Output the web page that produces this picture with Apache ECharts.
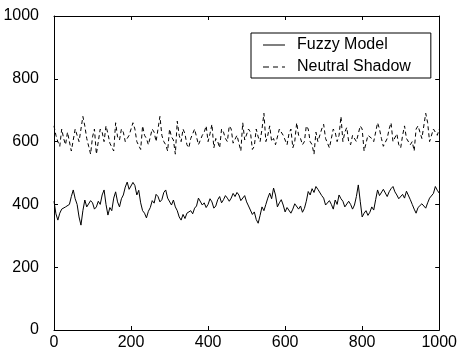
<!DOCTYPE html>
<html>
<head>
<meta charset="utf-8">
<script src="https://cdn.jsdelivr.net/npm/echarts@6/dist/echarts.min.js"></script>
<style>html,body{margin:0;padding:0;background:#fff}#c{width:460px;height:354px}</style>
</head>
<body>
<div id="c"></div>
<script>
const xValues = Array.from({length: 201}, (_, i) => i * 5);
const fuzzyModel = [
  410,370,350,372,385,380,392,388,400,425,446,418,400,360,334,380,414,392,395,412,
  405,385,392,410,400,430,446,400,366,390,380,420,440,408,392,418,430,455,471,448,
  450,470,460,430,445,405,380,372,357,378,390,412,404,432,425,408,415,438,446,420,
  425,398,414,392,380,360,350,368,355,372,366,380,370,388,395,420,414,398,405,390,
  400,418,408,388,395,415,425,405,415,428,420,410,420,435,425,438,430,412,415,428,
  408,395,390,368,376,352,340,365,392,380,400,420,436,418,452,430,392,405,415,398,
  376,390,395,372,385,402,408,385,395,375,387,410,441,430,450,438,457,448,445,428,
  420,398,392,412,400,385,414,400,430,418,410,392,398,410,400,385,398,425,462,410,
  360,372,380,365,375,392,382,415,446,428,430,448,446,425,440,450,457,440,430,418,
  414,432,420,442,436,415,400,385,372,390,385,402,398,388,405,420,414,435,457,445,
  436];
const neutralShadow = [
  650,620,600,585,640,610,590,630,630,570,575,640,620,600,600,680,650,610,585,560,
  615,640,560,600,640,630,600,650,625,595,590,570,660,615,605,640,630,600,595,620,
  615,660,640,600,600,575,650,620,610,590,585,640,630,600,600,680,620,600,590,570,
  640,615,605,560,665,620,600,640,625,590,580,610,610,640,640,590,595,620,630,650,
  600,625,655,580,610,600,580,640,630,610,600,650,640,595,590,620,620,570,660,605,
  600,640,630,575,585,640,615,600,640,690,600,620,650,600,610,590,590,640,640,620,
  605,590,625,640,580,600,660,620,610,590,600,650,640,600,590,560,630,600,600,640,
  655,610,610,580,585,640,630,600,620,680,600,630,645,600,590,620,615,600,600,650,
  640,570,575,620,625,610,600,600,660,640,610,585,590,610,640,660,600,600,625,590,
  580,620,650,610,610,590,600,570,640,650,630,610,610,690,660,600,600,640,640,620,
  640];
const seriesNames = ['Fuzzy Model', 'Neutral Shadow'];
const xTicks = [0, 200, 400, 600, 800, 1000];
const yTicks = [0, 200, 400, 600, 800, 1000];

const font = 'Liberation Sans, Arial, sans-serif';
const axisCommon = {
  min: 0, max: 1000, interval: 200,
  axisLine: {show: true, onZero: false, lineStyle: {color: '#000', width: 1}},
  axisTick: {show: true, inside: true, length: 4, lineStyle: {color: '#000'}},
  splitLine: {show: false}
};
const solidIcon = 'path://M0,7.5L22,7.5L22,8.5L0,8.5Z';
const dashIcon = 'path://M0,7.5h6v1h-6z M10,7.5h5v1h-5z M19,7.5h3v1h-3z M0,0h0.01v0.01h-0.01z M0,16h0.01v0.01h-0.01z';
const chart = echarts.init(document.getElementById('c'), null, {renderer: 'canvas'});
chart.setOption({
  animation: false,
  backgroundColor: '#fff',
  grid: {left: 54, right: 18, top: 16, bottom: 24, containLabel: false},
  legend: {
    orient: 'vertical',
    left: 251, top: 33,
    padding: [4, 20, 3, 12],
    itemGap: 6,
    itemWidth: 22, itemHeight: 16,
    borderColor: '#000', borderWidth: 1,
    backgroundColor: '#fff',
    textStyle: {fontFamily: font, fontSize: 16, lineHeight: 16, color: '#000', padding: [0, 0, 0, 7]},
    data: [
      {name: seriesNames[0], icon: 'path://M0,7.5L22,7.5L22,8.5L0,8.5Z M0,0h0.01v0.01h-0.01z M0,16h0.01v0.01h-0.01z', itemStyle: {color: '#000'}},
      {name: seriesNames[1], icon: dashIcon, itemStyle: {color: '#000'}}
    ]
  },
  xAxis: [
    Object.assign({}, axisCommon, {type: 'value', position: 'bottom',
      axisLabel: {show: true, color: '#000', fontFamily: font, fontSize: 16, margin: 5,
        formatter: v => xTicks.includes(v) ? String(v) : ''}}),
    Object.assign({}, axisCommon, {type: 'value', position: 'top', axisLabel: {show: false}})
  ],
  yAxis: [
    Object.assign({}, axisCommon, {type: 'value', position: 'left',
      axisLabel: {show: true, color: '#000', fontFamily: font, fontSize: 16, margin: 15,
        formatter: v => yTicks.includes(v) ? String(v) : ''}}),
    Object.assign({}, axisCommon, {type: 'value', position: 'right', axisLabel: {show: false}})
  ],
  series: [
    {name: seriesNames[0], type: 'line', symbol: 'none', smooth: false,
      lineStyle: {color: '#000', width: 1},
      itemStyle: {color: '#000'},
      data: xValues.map((x, i) => [x, fuzzyModel[i]])},
    {name: seriesNames[1], type: 'line', symbol: 'none', smooth: false,
      lineStyle: {color: '#000', width: 1, type: [4, 3]},
      itemStyle: {color: '#000'},
      data: xValues.map((x, i) => [x, neutralShadow[i]])}
  ]
});
</script>
</body>
</html>
